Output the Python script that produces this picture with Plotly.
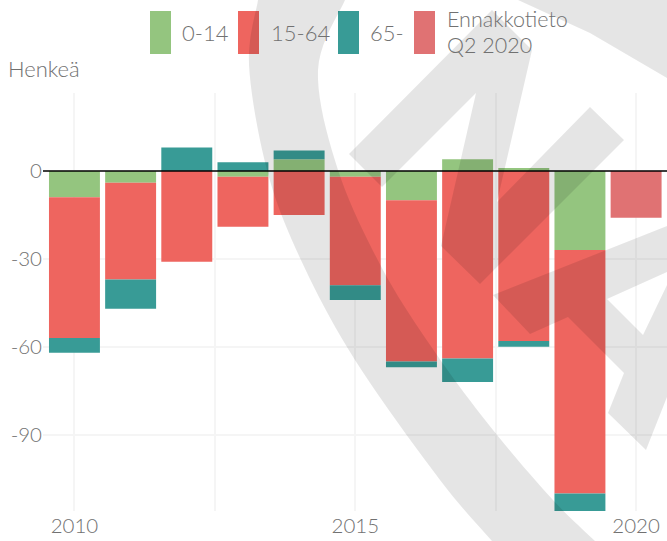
import plotly.graph_objects as go

years = [2010, 2011, 2012, 2013, 2014, 2015, 2016, 2017, 2018, 2019]
age_0_14 = [-9, -4, 0, -2, 4, -2, -10, 4, 1, -27]
age_15_64 = [-48, -33, -31, -17, -15, -37, -55, -64, -58, -83]
age_65 = [-5, -10, 8, 3, 3, -5, -2, -8, -2, -7]
preview_years = [2020]
preview_values = [-16]

legend_names = ["0-14", "15-64", "65-"]
preview_lines = ["Ennakkotieto", "Q2 2020"]
y_ticks = [0, -30, -60, -90]
y_labels = ["0", "-30", "-60", "-90"]
x_ticks = [2010, 2012.5, 2015, 2017.5, 2020]
x_labels = ["2010", "", "2015", "", "2020"]

GREEN, RED, TEAL, PRE = "#94c57f", "#ee655f", "#389b96", "#e07273"
TEXT = "#717171"
GRID = "#f5f5f5"
FONT = "Lato"
W, H = 667, 541
L, R, T, B = 43, 0, 93, 30


def px(x):
    return (x - L) / (W - L - R)


def py(y):
    return 1 - (y - T) / (H - T - B)


def catmull(points, n=10):
    pts = [points[0]] + list(points) + [points[-1]]
    out = []
    for i in range(1, len(pts) - 2):
        p0, p1, p2, p3 = pts[i - 1], pts[i], pts[i + 1], pts[i + 2]
        for k in range(n):
            t = k / n
            f = lambda a, b, c, d: 0.5 * (2 * b + (c - a) * t + (2 * a - 5 * b + 4 * c - d) * t * t
                                          + (3 * b - a - 3 * c + d) * t ** 3)
            out.append((f(p0[0], p1[0], p2[0], p3[0]), f(p0[1], p1[1], p2[1], p3[1])))
    out.append(points[-1])
    return out


def poly(points):
    return "M " + " L ".join(f"{px(x):.5f},{py(y):.5f}" for x, y in points) + " Z"


band_outer = [(258, 0), (249, 65), (267, 170), (300, 258), (355, 360), (440, 480), (492, 541)]
band_inner = [(595, 541), (553, 500), (493, 430), (437, 355), (383, 270), (338, 170), (318, 70), (345, 0)]
corner = [(518, 0), (590, 33), (667, 78), (667, 0)]
arrow_a = [(349, 154), (492, 10), (532, 50), (497, 202), (590, 107), (624, 140), (480, 284), (441, 246),
           (476, 93), (382, 187)]
arrow_b = [(493, 295), (667, 226), (667, 272), (607, 299), (643, 335), (667, 285), (667, 397), (646, 450),
           (608, 413), (624, 373), (568, 317), (530, 334)]
watermark = [catmull(band_outer) + catmull(band_inner), corner, arrow_a, arrow_b]

fig = go.Figure()
for name, vals, col in [("0-14", age_0_14, GREEN), ("15-64", age_15_64, RED), ("65-", age_65, TEAL)]:
    fig.add_bar(x=years, y=vals, name=name, marker=dict(color=col, line_width=0), showlegend=False)
fig.add_bar(x=preview_years, y=preview_values, name="Ennakkotieto Q2 2020",
            marker=dict(color=PRE, line_width=0), showlegend=False)

shapes = []
annotations = []


def note(text, x, y, size=22, **kw):
    annotations.append(dict(text=text, xref="paper", yref="paper", x=px(x), y=py(y), xanchor="left",
                            yanchor="middle", showarrow=False, align="left", xshift=-2,
                            font=dict(family=FONT, size=size, color=TEXT, weight=300), **kw))


swatches = [(150, GREEN), (238, RED), (338, TEAL), (414, PRE)]
for sx, col in swatches:
    shapes.append(dict(type="rect", xref="paper", yref="paper", x0=px(sx), x1=px(sx + 21),
                       y0=py(54), y1=py(11), fillcolor=col, line_width=0, layer="above"))
for label, tx in zip(legend_names, [182, 271, 370]):
    note(label, tx, 33)
note(preview_lines[0], 447, 18.5, size=21.5)
note(preview_lines[1], 447, 45, size=21.5)
note("Henkeä", 8, 69)

shapes.append(dict(type="line", xref="paper", yref="y", x0=0, x1=1, y0=0, y1=0,
                   line=dict(color="#000000", width=1.6), layer="above"))
for p in watermark:
    shapes.append(dict(type="path", xref="paper", yref="paper", path=poly(p), fillcolor="rgba(0,0,0,0.1)",
                       line_width=0, layer="above"))

fig.update_layout(
    width=W, height=H, barmode="relative", bargap=0.093,
    margin=dict(l=L, r=R, t=T, b=B, pad=0),
    paper_bgcolor="white", plot_bgcolor="white",
    font=dict(family=FONT, size=20, color=TEXT, weight=300),
    shapes=shapes, annotations=annotations,
    xaxis=dict(range=[2009.44, 2020.55], tickmode="array", tickvals=x_ticks, ticktext=x_labels,
               showgrid=True, gridcolor=GRID, gridwidth=2, zeroline=False, showline=False, ticks="",
               tickfont=dict(family=FONT, size=20.5, color=TEXT, weight=300)),
    yaxis=dict(range=[-116, 26.6], tickmode="array", tickvals=y_ticks, ticktext=y_labels,
               showgrid=True, gridcolor=GRID, gridwidth=2, zeroline=False, showline=False, ticks="",
               tickfont=dict(family=FONT, size=20.5, color=TEXT, weight=300)),
)

fig.write_html("out.html", config=dict(displayModeBar=False),
               post_script="document.body.style.margin='0';document.body.style.overflow='hidden';")
